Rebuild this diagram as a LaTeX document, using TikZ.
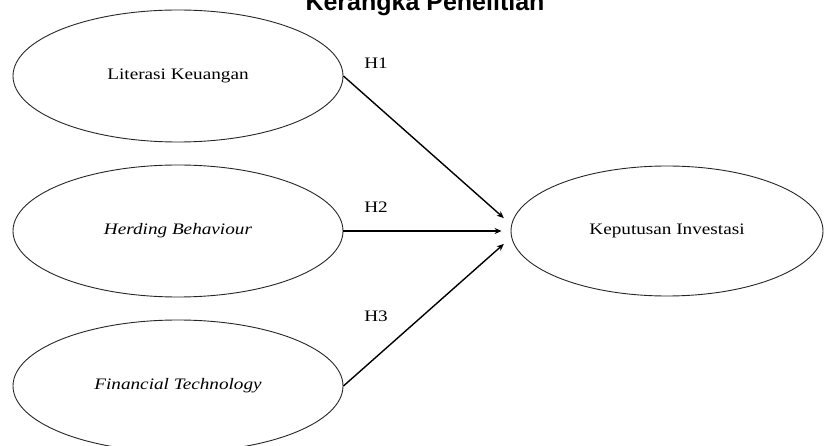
\documentclass[tikz,border=0pt]{standalone}
\usepackage{fontspec}
\setmainfont{Liberation Serif}[FakeStretch=1.2]
\newfontfamily\titlefont{Liberation Sans}
\usetikzlibrary{shapes.geometric,arrows.meta}
\begin{document}
\begin{tikzpicture}[x=1pt,y=-1pt,node distance=155pt,
			latent node/.style = {ellipse,draw,line width=0.9pt,draw=black!85,inner sep=0pt,
				minimum width=330pt,minimum height=132pt,font=\fontsize{16}{19}\selectfont},
			path arrow/.style = {line width=1.4pt,-{Stealth[length=7pt,width=6pt]},shorten >=9pt},
			hyp label/.style = {font=\fontsize{16}{19}\selectfont}]
			
			\clip (0,0) rectangle (825,446);
			\useasboundingbox (0,0) rectangle (825,446);
			
			\node [anchor=base,font=\titlefont\bfseries\fontsize{25}{30}\selectfont] (title) at (425,11) {Kerangka Penelitian};
			
			\node[latent node] (1) at (178,76) {Literasi Keuangan};
			\node[latent node] [below of = 1](2) {\textit{Herding Behaviour}};
			\node[latent node] [below of = 2](3) {\textit{Financial Technology}};
			\node[latent node,minimum width=312pt,minimum height=130pt] [right of = 2,node distance=489pt](4) {Keputusan Investasi};
			
			\node[hyp label] (h1) at (376,63) {H1};
			\node[hyp label] (h2) at (376,207) {H2};
			\node[hyp label] (h3) at (376,316) {H3};
			
			\path[path arrow] (1.east) edge ([yshift=7pt]4.west);
			\path[path arrow] (2.east) edge (4.west);
			\path[path arrow] (3.east) edge ([yshift=-7pt]4.west);
			
			\end{tikzpicture}
\end{document}
